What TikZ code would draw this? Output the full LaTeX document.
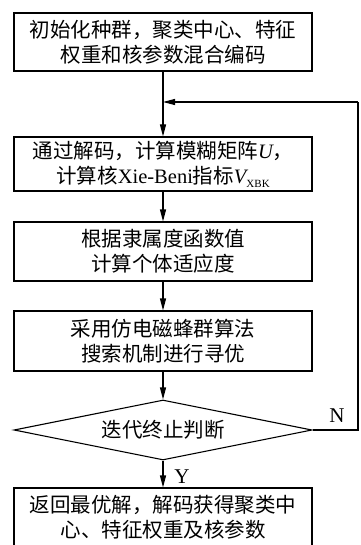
\documentclass[tikz,border=0pt]{standalone}
\usepackage{fontspec}
\setmainfont{Liberation Serif}
\newfontfamily\cjk{Noto Sans CJK SC}
\usetikzlibrary{shapes.geometric,arrows.meta}
\begin{document}
\begin{tikzpicture}[x=1pt,y=-1pt,
  every node/.style={inner sep=0pt},
  flowbox/.style={draw, line width=1.1pt, minimum width=298pt, align=center,
    font=\cjk\fontsize{20.5}{25}\selectfont},
  decide/.style={draw, line width=1.1pt, diamond, aspect=4.97, minimum width=298pt,
    minimum height=60pt, font=\cjk\fontsize{20.5}{25}\selectfont},
  lbl/.style={font=\rmfamily\fontsize{21}{21}\selectfont},
  conn/.style={line width=1.1pt, -{Triangle[length=12pt,width=6pt]}},
  plain/.style={line width=1.1pt}]
\useasboundingbox (0,0) rectangle (360,545);
\node[flowbox, minimum height=58pt] (b1) at (163,42) {初始化种群，聚类中心、特征\\权重和核参数混合编码};
\node[flowbox, minimum height=54pt] (b2) at (163,164) {通过解码，计算模糊矩阵{\rmfamily\itshape U}，\\计算核{\rmfamily Xie-Beni}指标{\rmfamily\itshape V}\raisebox{-4pt}{\rmfamily\fontsize{11}{11}\selectfont XBK}};
\node[flowbox, minimum height=59pt] (b3) at (163,251.5) {根据隶属度函数值\\计算个体适应度};
\node[flowbox, minimum height=60pt] (b4) at (163,341) {采用仿电磁蜂群算法\\搜索机制进行寻优};
\node[decide] (d) at (163,430) {迭代终止判断};
\node[flowbox, minimum height=59pt] (b5) at (163,517.5) {返回最优解，解码获得聚类中\\心、特征权重及核参数};
\coordinate (j) at (163,102);
\coordinate (r1) at (358,430);
\coordinate (r2) at (358,102);
\draw[conn] (b1) -- (b2);
\draw[conn] (b2) -- (b3);
\draw[conn] (b3) -- (b4);
\draw[conn] (b4) -- (d);
\draw[conn] (d) -- (b5);
\draw[plain] (d.east) -- (r1) -- (r2);
\draw[conn] (r2) -- (j);
\node[lbl] (n) at (337,416) {N};
\node[lbl] (y) at (182,477) {Y};
\end{tikzpicture}
\end{document}
